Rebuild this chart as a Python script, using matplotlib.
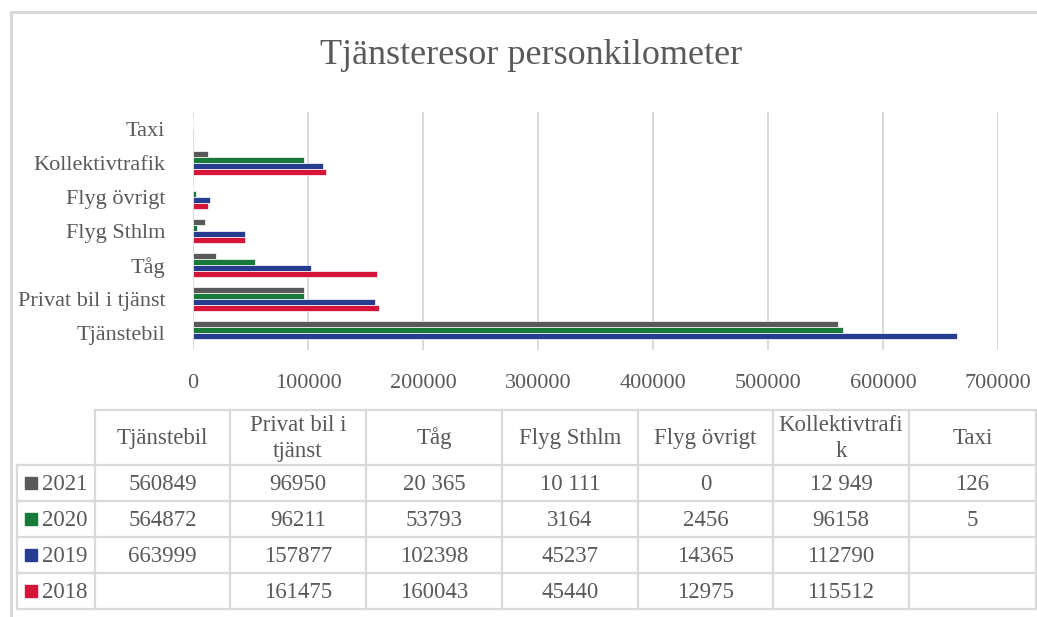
import matplotlib
matplotlib.use("Agg")
import matplotlib.pyplot as plt
from matplotlib.lines import Line2D
from matplotlib.patches import Rectangle

# Categories (bottom to top in the chart, left to right in the table)
categories = ["Tjänstebil", "Privat bil i tjänst", "Tåg", "Flyg Sthlm",
              "Flyg övrigt", "Kollektivtrafik", "Taxi"]
table_headers = ["Tjänstebil", "Privat bil i\ntjänst", "Tåg", "Flyg Sthlm",
                 "Flyg övrigt", "Kollektivtrafi\nk", "Taxi"]

years = ["2021", "2020", "2019", "2018"]
values_2021 = [560849, 96950, 20365, 10111, 0, 12949, 126]
values_2020 = [564872, 96211, 53793, 3164, 2456, 96158, 5]
values_2019 = [663999, 157877, 102398, 45237, 14365, 112790, None]
values_2018 = [None, 161475, 160043, 45440, 12975, 115512, None]
# cells written with a space as thousands separator in the source table
spaced_2021 = [False, False, True, True, False, True, False]

series = [values_2021, values_2020, values_2019, values_2018]
spacing = [spaced_2021, [False] * 7, [False] * 7, [False] * 7]
colors = ["#595959", "#177a3b", "#263d8f", "#d5143a"]

xticks = [0, 100000, 200000, 300000, 400000, 500000, 600000, 700000]

TEXT = "#595959"
LINE = "#d9d9d9"
FONT = "Liberation Serif"
W, H = 1037, 617

plt.rcParams["font.family"] = [FONT, "DejaVu Serif"]

fig = plt.figure(figsize=(W / 100, H / 100), dpi=100)


def fx(px):
    return px / W


def fy(py):
    return 1 - py / H


# Bar chart
ax = fig.add_axes([fx(193), fy(350), fx(998) - fx(193), fy(112) - fy(350)])
bar_h = 0.17
offsets = [1.5 * bar_h, 0.5 * bar_h, -0.5 * bar_h, -1.5 * bar_h]
for vals, col, off in zip(series, colors, offsets):
    ys = [i + off for i, v in enumerate(vals) if v is not None]
    xs = [v for v in vals if v is not None]
    ax.barh(ys, xs, height=bar_h, color=col, edgecolor="white", linewidth=0.5, zorder=3)

ax.set_xlim(0, 700000)
ax.set_ylim(-0.5, len(categories) - 0.5)
ax.set_yticks(range(len(categories)))
ax.set_yticklabels(categories, fontsize=16, color=TEXT)
ax.set_xticks(xticks)
ax.set_xticklabels([str(t) for t in xticks], fontsize=16, color=TEXT)
ax.tick_params(axis="y", length=0, pad=20)
ax.tick_params(axis="x", length=0, pad=17)
ax.grid(axis="x", color=LINE, linewidth=1.4, zorder=0)
for s in ax.spines.values():
    s.set_visible(False)

# Title
fig.text(fx(531), fy(55), "Tjänsteresor personkilometer", fontsize=26,
         color=TEXT, ha="center", va="center")

# Overlay in pixel coordinates for the chart border and data table
ov = fig.add_axes([0, 0, 1, 1])
ov.set_xlim(0, W)
ov.set_ylim(H, 0)
ov.axis("off")
ov.patch.set_alpha(0)

# outer chart border
ov.add_line(Line2D([10.5, 10.5, W], [H, 12, 12], color=LINE, linewidth=2.2))

col_edges = [95, 230, 366, 502, 638, 773, 909, 1036]
row_edges = [410, 465, 501, 537, 573, 609]
label_left = 17

# grid lines of the table
ov.add_line(Line2D([col_edges[0], col_edges[-1]], [row_edges[0]] * 2, color=LINE, linewidth=1.6))
for yy in row_edges[1:]:
    ov.add_line(Line2D([label_left, col_edges[-1]], [yy] * 2, color=LINE, linewidth=1.6))
for xx in col_edges:
    ov.add_line(Line2D([xx, xx], [row_edges[0], row_edges[-1]], color=LINE, linewidth=1.6))
ov.add_line(Line2D([label_left] * 2, [row_edges[1], row_edges[-1]], color=LINE, linewidth=1.6))

# header row
for j, head in enumerate(table_headers):
    cx = (col_edges[j] + col_edges[j + 1]) / 2
    cy = (row_edges[0] + row_edges[1]) / 2
    ov.text(cx, cy + 1, head, fontsize=16.5, color=TEXT, ha="center", va="center",
            linespacing=1.35)


def fmt(v, spaced):
    if v is None:
        return ""
    if spaced:
        return f"{v:,}".replace(",", " ")
    return str(v)


# data rows
for i, (yr, vals, sp, col) in enumerate(zip(years, series, spacing, colors)):
    cy = (row_edges[i + 1] + row_edges[i + 2]) / 2
    ov.add_patch(Rectangle((25, cy - 6), 12, 12, color=col))
    ov.text(42, cy + 1, yr, fontsize=16.5, color=TEXT, ha="left", va="center")
    for j, v in enumerate(vals):
        cx = (col_edges[j] + col_edges[j + 1]) / 2
        ov.text(cx, cy + 1, fmt(v, sp[j]), fontsize=16.5, color=TEXT,
                ha="center", va="center")

fig.savefig("out.png", dpi=100)
